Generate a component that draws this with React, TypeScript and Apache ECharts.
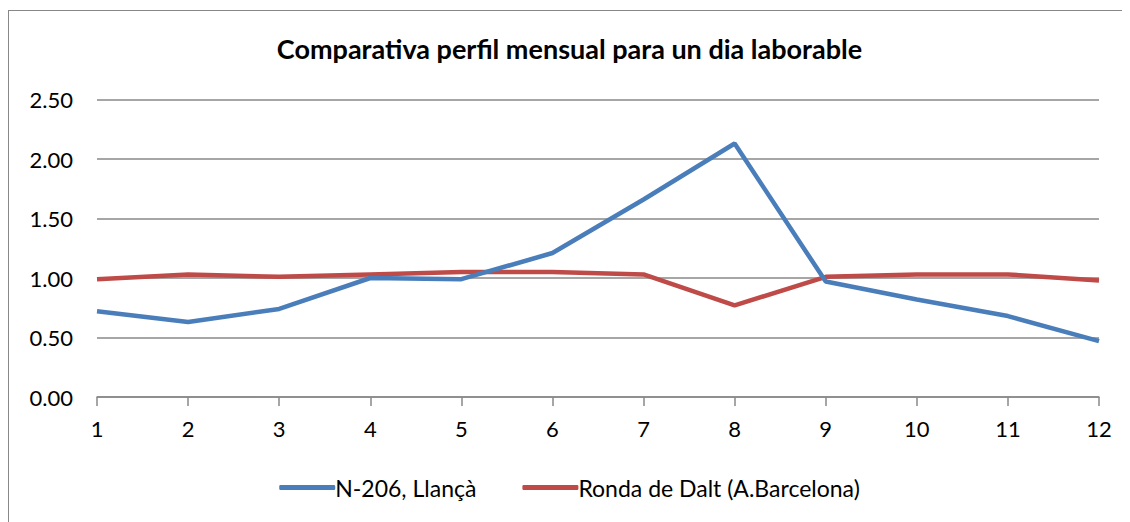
import React, { useEffect, useRef } from "react";
import * as echarts from "echarts";

const months = ["1", "2", "3", "4", "5", "6", "7", "8", "9", "10", "11", "12"];
const n206 = [0.72, 0.63, 0.74, 1.0, 0.99, 1.21, 1.66, 2.13, 0.97, 0.82, 0.68, 0.47];
const rondaDalt = [0.99, 1.03, 1.01, 1.03, 1.05, 1.05, 1.03, 0.77, 1.01, 1.03, 1.03, 0.98];
const seriesNames = ["N-206, Llançà", "Ronda de Dalt (A.Barcelona)"];
const titleText = "Comparativa perfil mensual para un dia laborable";

const FONT = "Lato, 'Open Sans', sans-serif";

export default function App() {
  const ref = useRef<HTMLDivElement>(null);
  useEffect(() => {
    if (!ref.current) return;
    const chart = echarts.init(ref.current, null, { renderer: "svg" });
    chart.setOption({
      animation: false,
      backgroundColor: "#fff",
      title: {
        text: titleText,
        left: "center",
        top: 19,
        textStyle: { fontFamily: FONT, fontWeight: "bold", fontSize: 27, color: "#000" },
      },
      grid: { left: 88, right: 31, top: 88.5, bottom: 127, containLabel: false },
      legend: {
        bottom: 20,
        left: "center",
        itemWidth: 56,
        itemHeight: 5,
        itemGap: 46,
        icon: "roundRect",
        textStyle: { fontFamily: FONT, fontSize: 23, color: "#000", padding: [0, 0, 0, -5] },
        data: seriesNames,
      },
      xAxis: {
        type: "category",
        data: months,
        boundaryGap: false,
        axisLine: { lineStyle: { color: "#888", width: 1.5 } },
        axisTick: { show: true, length: 9, lineStyle: { color: "#888", width: 1.5 } },
        axisLabel: { fontFamily: FONT, fontSize: 22, color: "#000", margin: 20 },
        splitLine: { show: false },
      },
      yAxis: {
        type: "value",
        min: 0,
        max: 2.5,
        interval: 0.5,
        axisLine: { show: false },
        axisTick: { show: false },
        axisLabel: {
          fontFamily: FONT,
          fontSize: 22,
          color: "#000",
          margin: 24,
          formatter: (v: number) => v.toFixed(2),
        },
        splitLine: { lineStyle: { color: "#888", width: 1.5 } },
      },
      series: [
        {
          name: seriesNames[0],
          type: "line",
          data: n206,
          symbol: "none",
          lineStyle: { color: "#4a7ebb", width: 4.5 },
          itemStyle: { color: "#4a7ebb" },
          z: 3,
        },
        {
          name: seriesNames[1],
          type: "line",
          data: rondaDalt,
          symbol: "none",
          lineStyle: { color: "#be4b48", width: 4.5 },
          itemStyle: { color: "#be4b48" },
          z: 2,
        },
      ],
    });
    return () => chart.dispose();
  }, []);
  return (
    <div
      style={{
        width: 1122,
        height: 514,
        borderTop: "1.5px solid #888",
        borderLeft: "1.5px solid #888",
        boxSizing: "border-box",
        marginTop: 2,
      }}
    >
      <div ref={ref} style={{ width: "100%", height: "100%" }} />
    </div>
  );
}
